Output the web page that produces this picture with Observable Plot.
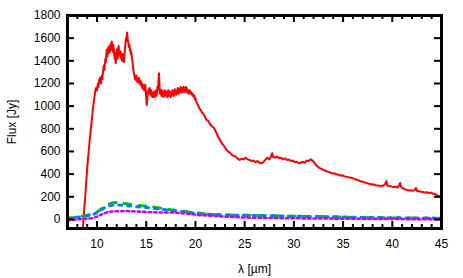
<!DOCTYPE html>
<html><head><meta charset="utf-8">
<script src="https://cdn.jsdelivr.net/npm/d3@7"></script>
<script src="https://cdn.jsdelivr.net/npm/@observablehq/plot@0.6"></script>
<style>body{margin:0;background:#fff} svg{font-family:"Liberation Sans",Arial,sans-serif}</style>
</head><body><div id="chart"></div>
<script>
// Red spectrum (λ in µm, flux in Jy)
const redLambda = [8.55,8.8,9.0,9.2,9.4,9.6,9.8,9.9,
10.0,10.05,10.1,10.15,10.2,10.25,10.3,10.35,10.4,10.45,10.5,10.55,10.6,10.65,10.7,10.75,10.8,10.85,10.9,10.95,
11.0,11.05,11.1,11.15,11.2,11.25,11.3,11.35,11.4,11.45,11.5,11.55,11.6,11.65,11.7,11.75,11.8,11.85,11.9,11.95,
12.0,12.05,12.1,12.15,12.2,12.25,12.3,12.35,12.4,12.45,12.5,12.55,12.6,12.65,12.7,12.75,12.8,12.85,12.9,12.95,
13.0,13.05,13.1,13.15,13.2,13.25,13.3,13.35,13.4,13.45,13.5,13.55,13.6,13.65,13.7,13.75,13.8,13.85,13.9,13.95,
14.0,14.05,14.1,14.15,14.2,14.25,14.3,14.35,14.4,14.45,14.5,14.55,14.6,14.65,14.7,14.75,14.8,14.85,14.9,14.95,
15.0,15.05,15.1,15.15,15.2,15.25,15.3,15.35,15.4,15.45,15.5,15.55,15.6,15.65,15.7,15.75,15.8,15.85,15.9,15.95,
16.0,16.05,16.1,16.15,16.2,16.25,16.3,16.35,16.4,16.45,16.5,16.55,16.6,16.65,16.7,16.75,16.8,16.85,16.9,16.95,
17.0,17.05,17.1,17.15,17.2,17.25,17.3,17.35,17.4,17.45,17.5,17.55,17.6,17.65,17.7,17.75,17.8,17.85,17.9,17.95,
18.0,18.05,18.1,18.15,18.2,18.25,18.3,18.35,18.4,18.45,18.5,18.55,18.6,18.65,18.7,18.75,18.8,18.85,18.9,18.95,
19.0,19.05,19.1,19.15,19.2,19.25,19.3,19.35,19.4,19.45,19.5,19.55,19.6,19.65,19.7,19.75,19.8,19.85,19.9,19.95,
20.0,20.1,20.2,20.3,20.4,20.5,20.7,20.9,21.1,21.3,21.5,21.7,21.9,22.1,22.3,22.5,22.7,22.9,23.1,23.3,23.5,23.7,23.9,
24.1,24.3,24.5,24.7,24.9,25.1,25.3,25.5,25.7,25.9,26.1,26.3,26.5,26.7,26.9,27.1,27.3,27.5,27.7,27.8,27.9,
28.1,28.3,28.5,28.7,28.9,29.1,29.3,29.5,29.7,29.9,30.1,30.3,30.5,30.7,30.9,31.1,31.3,31.5,31.7,31.9,
32.1,32.3,32.5,32.7,32.9,33.1,33.3,33.5,33.7,33.9,34.1,34.3,34.5,34.7,34.9,35.1,35.3,35.5,35.7,35.9,
36.1,36.3,36.5,36.7,36.9,37.1,37.3,37.5,37.7,37.9,38.1,38.3,38.5,38.7,38.9,39.1,39.3,39.4,39.5,39.7,39.9,
40.1,40.3,40.5,40.7,40.8,40.9,41.1,41.3,41.5,41.7,41.9,42.1,42.3,42.4,42.5,42.7,42.9,43.1,43.3,43.5,43.7,43.9,
44.1,44.3,44.5,44.7,44.9,45.0];
const redFlux = [-80,200,450,650,820,990,1120,1160,
1140,1180,1200,1170,1230,1210,1250,1220,1200,1250,1270,1240,1300,1330,1360,1320,1370,1420,1390,1460,
1500,1440,1480,1520,1470,1530,1480,1510,1550,1500,1570,1520,1480,1540,1510,1450,1420,1470,1380,1440,
1500,1450,1420,1510,1530,1460,1490,1440,1480,1420,1450,1400,1460,1410,1440,1390,1470,1520,1560,1600,
1580,1650,1610,1570,1550,1520,1540,1490,1500,1460,1470,1420,1400,1350,1320,1290,1270,1240,1260,1230,
1270,1240,1210,1240,1220,1250,1200,1230,1190,1220,1180,1200,1160,1190,1150,1180,1140,1170,1190,1120,
1080,1010,1060,1130,1110,1150,1120,1160,1130,1100,1140,1090,1120,1080,1110,1090,1130,1080,1110,1100,
1140,1090,1120,1170,1150,1230,1290,1180,1110,1150,1120,1090,1140,1110,1130,1080,1120,1100,1140,1110,
1090,1130,1100,1080,1120,1140,1100,1090,1130,1110,1080,1120,1100,1140,1110,1130,1090,1120,1150,1110,
1130,1100,1140,1120,1160,1130,1110,1150,1120,1140,1170,1130,1150,1120,1160,1130,1170,1140,1120,1160,
1140,1170,1130,1150,1120,1140,1110,1130,1140,1120,1130,1110,1120,1100,1110,1090,1100,1080,1090,1060,
1070,1040,1020,1000,980,970,940,920,880,870,840,820,805,770,730,700,670,650,620,600,590,570,560,
555,535,525,535,530,545,530,525,515,520,505,515,500,495,505,525,545,530,560,585,550,
545,555,540,545,530,540,525,530,515,520,505,510,495,500,510,500,520,515,530,520,
500,475,460,450,440,435,425,420,415,405,408,398,395,388,390,382,378,372,370,365,
360,352,348,340,335,328,325,318,315,308,310,302,300,298,295,300,315,338,300,295,292,
285,290,282,300,322,285,275,265,260,255,258,252,262,278,252,250,245,242,238,240,232,238,
228,225,218,205,200,190];
// Model curves
const modelLambda = [7.0,7.5,8.0,8.5,9.0,9.5,10.0,10.5,11.0,11.5,12.0,12.5,13.0,13.5,14.0,14.5,15.0,15.5,16.0,16.5,17.0,17.5,18.0,18.5,19.0,19.5,20.0,20.5,21.0,21.5,22.0,23,24,25,26,27,28,29,30,31,32,33,34,35,36,37,38,39,40,41,42,43,44,45];
const greenFlux = [12,15,18,28,38,45,65,95,125,145,150,145,138,132,125,120,118,115,105,98,92,85,80,75,70,62,58,55,48,45,42,40,38,37,35,35,33,30,28,25,25,25,22,20,18,17,15,14,13,12,12,11,10,10];
const blueFlux = [10,12,20,25,30,40,60,90,115,125,128,125,120,118,112,108,105,100,95,90,85,80,75,70,65,60,55,50,47,45,43,40,38,36,35,33,32,30,28,27,26,25,23,21,20,18,17,16,15,14,13,12,12,11];
const purpleFlux = [-8,-5,0,3,5,10,25,45,62,70,72,73,74,72,70,68,65,64,62,62,62,61,60,56,52,47,42,38,35,32,30,25,20,17,15,13,12,11,10,9,8,8,7,6,5,5,4,4,3,3,2,2,1,0];
// Axes
const xMajorTicks = [10,15,20,25,30,35,40,45];
const xMinorTicks = [8,9,11,12,13,14,16,17,18,19,21,22,23,24,26,27,28,29,31,32,33,34,36,37,38,39,41,42,43,44];
const yTicks = [0,200,400,600,800,1000,1200,1400,1600,1800];

const W = 463, H = 278, mL = 67, mR = 22, mT = 15, mB = 50;
const pw = W - mL - mR, ph = H - mT - mB;

const red = redLambda.map((x, i) => ({x, y: redFlux[i]}));
const green = modelLambda.map((x, i) => ({x, y: greenFlux[i]}));
const blue = modelLambda.map((x, i) => ({x, y: blueFlux[i]}));
const purple = modelLambda.map((x, i) => ({x, y: purpleFlux[i]}));

const chart = Plot.plot({
  width: W, height: H, marginLeft: mL, marginRight: mR, marginTop: mT, marginBottom: mB,
  style: {fontSize: "12px", fontFamily: "'Liberation Sans', Arial, sans-serif", background: "#fff", color: "#000"},
  x: {domain: [7, 45]},
  y: {domain: [-80, 1800]},
  marks: [
    Plot.line(red, {x: "x", y: "y", stroke: "#ff0000", strokeWidth: 2, clip: true}),
    Plot.line(green, {x: "x", y: "y", stroke: "#00c000", strokeWidth: 3, strokeDasharray: "7,8", clip: true}),
    Plot.line(blue, {x: "x", y: "y", stroke: "#0080ff", strokeWidth: 3, strokeDasharray: "3,6", clip: true}),
    Plot.line(purple, {x: "x", y: "y", stroke: "#c000ff", strokeWidth: 2.5, strokeDasharray: "2.5,3", clip: true}),
    Plot.tickX(xMinorTicks, {x: d => d, insetTop: ph - 4, strokeWidth: 2}),
    Plot.tickX(xMinorTicks, {x: d => d, insetBottom: ph - 4, strokeWidth: 2}),
    Plot.tickX(xMajorTicks, {x: d => d, insetTop: ph - 7, strokeWidth: 2}),
    Plot.tickX(xMajorTicks, {x: d => d, insetBottom: ph - 7, strokeWidth: 2}),
    Plot.tickY(yTicks, {y: d => d, insetRight: pw - 7, strokeWidth: 2}),
    Plot.tickY(yTicks, {y: d => d, insetLeft: pw - 7, strokeWidth: 2}),
    Plot.frame({stroke: "#000", strokeWidth: 3}),
    Plot.axisX({ticks: xMajorTicks, tickSize: 0, tickPadding: 11, tickFormat: "d", label: "λ [µm]", labelAnchor: "center", labelOffset: 44, labelArrow: "none"}),
    Plot.axisY({ticks: yTicks, tickSize: 0, tickPadding: 7, tickFormat: "d", label: "Flux [Jy]", labelAnchor: "center", labelOffset: 60, labelArrow: "none"})
  ]
});
document.getElementById("chart").appendChild(chart);
</script>
</body></html>
